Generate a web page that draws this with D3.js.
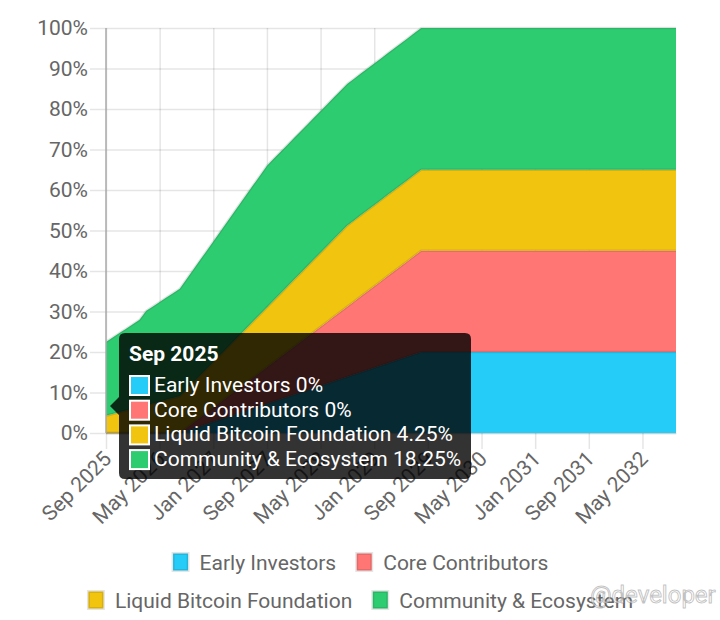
<!DOCTYPE html>
<html>
<head>
<meta charset="utf-8">
<script src="https://cdn.jsdelivr.net/npm/d3@7"></script>
<style>
  html, body { margin: 0; padding: 0; background: #fff; }
  svg { display: block; font-family: Roboto, "Noto Sans", sans-serif; }
</style>
</head>
<body>
<svg id="chart" width="720" height="620"></svg>
<script>
// Token unlock schedule, cumulative % of total supply, one point per month from Sep 2025

const seriesNames = ['Early Investors', 'Core Contributors', 'Liquid Bitcoin Foundation', 'Community & Ecosystem'];
const seriesColors = ['#25CCF7', '#FF7675', '#F1C40F', '#2ECC71'];

const earlyInvestors = [
    0, 0, 0, 0, 0, 0, 0, 0, 0, 0, 0, 0,
    0.56, 1.11, 1.67, 2.22, 2.78, 3.33, 3.89, 4.44, 5, 5.56, 6.11, 6.67,
    7.22, 7.78, 8.33, 8.89, 9.44, 10, 10.56, 11.11, 11.67, 12.22, 12.78, 13.33,
    13.89, 14.44, 15, 15.56, 16.11, 16.67, 17.22, 17.78, 18.33, 18.89, 19.44, 20,
    20, 20, 20, 20, 20, 20, 20, 20, 20, 20, 20, 20,
    20, 20, 20, 20, 20, 20, 20, 20, 20, 20, 20, 20,
    20, 20, 20, 20, 20, 20, 20, 20, 20, 20, 20, 20,
    20, 20
];
const coreContributors = [
    0, 0, 0, 0, 0, 0, 0, 0, 0, 0, 0, 0,
    0.69, 1.39, 2.08, 2.78, 3.47, 4.17, 4.86, 5.56, 6.25, 6.94, 7.64, 8.33,
    9.03, 9.72, 10.42, 11.11, 11.81, 12.5, 13.19, 13.89, 14.58, 15.28, 15.97, 16.67,
    17.36, 18.06, 18.75, 19.44, 20.14, 20.83, 21.53, 22.22, 22.92, 23.61, 24.31, 25,
    25, 25, 25, 25, 25, 25, 25, 25, 25, 25, 25, 25,
    25, 25, 25, 25, 25, 25, 25, 25, 25, 25, 25, 25,
    25, 25, 25, 25, 25, 25, 25, 25, 25, 25, 25, 25,
    25, 25
];
const liquidFoundation = [
    4.25, 4.69, 5.13, 5.56, 6, 6.44, 6.88, 7.31, 7.75, 8.19, 8.63, 9.06,
    9.5, 9.94, 10.38, 10.81, 11.25, 11.69, 12.13, 12.56, 13, 13.44, 13.88, 14.31,
    14.75, 15.19, 15.63, 16.06, 16.5, 16.94, 17.38, 17.81, 18.25, 18.69, 19.13, 19.56,
    20, 20, 20, 20, 20, 20, 20, 20, 20, 20, 20, 20,
    20, 20, 20, 20, 20, 20, 20, 20, 20, 20, 20, 20,
    20, 20, 20, 20, 20, 20, 20, 20, 20, 20, 20, 20,
    20, 20, 20, 20, 20, 20, 20, 20, 20, 20, 20, 20,
    20, 20
];
const communityEcosystem = [
    18.25, 18.9, 19.55, 20.2, 20.85, 21.5, 23.3, 23.95, 24.6, 25.25, 25.9, 26.55,
    27.2, 27.85, 28.5, 29.15, 29.8, 30.45, 31.1, 31.75, 32.4, 33.05, 33.7, 34.35,
    35, 35, 35, 35, 35, 35, 35, 35, 35, 35, 35, 35,
    35, 35, 35, 35, 35, 35, 35, 35, 35, 35, 35, 35,
    35, 35, 35, 35, 35, 35, 35, 35, 35, 35, 35, 35,
    35, 35, 35, 35, 35, 35, 35, 35, 35, 35, 35, 35,
    35, 35, 35, 35, 35, 35, 35, 35, 35, 35, 35, 35,
    35, 35
];

const xTickLabels = ['Sep 2025', 'May 2026', 'Jan 2027', 'Sep 2027', 'May 2028', 'Jan 2029',
    'Sep 2029', 'May 2030', 'Jan 2031', 'Sep 2031', 'May 2032'];
const yTicks = [0, 10, 20, 30, 40, 50, 60, 70, 80, 90, 100];

// month categories Sep 2025 .. Oct 2032
const fmtMonth = d3.timeFormat('%b %Y');
const months = d3.timeMonth.range(new Date(2025, 8, 1), new Date(2032, 10, 1)).map(fmtMonth);

const values = [earlyInvestors, coreContributors, liquidFoundation, communityEcosystem];
const rows = months.map((m, i) => {
    const r = { month: m };
    seriesNames.forEach((n, k) => { r[n] = values[k][i]; });
    return r;
});

const svg = d3.select('#chart');
const plotLeft = 106, plotRight = 676, plotTop = 28, plotBottom = 433;
const tickLen = 16;
const fontSize = 21;
const axisColor = '#666';
const gridColor = 'rgba(0,0,0,0.1)';

const x = d3.scalePoint().domain(months).range([plotLeft, plotRight]);
const y = d3.scaleLinear().domain([0, 100]).range([plotBottom, plotTop]);

// y axis + horizontal grid
const yAxis = svg.append('g')
    .attr('transform', `translate(${plotLeft},0)`)
    .call(d3.axisLeft(y).tickValues(yTicks).tickFormat(d => d + '%').tickSizeInner(tickLen).tickSizeOuter(0).tickPadding(2));
yAxis.select('.domain').remove();
yAxis.selectAll('.tick line').attr('x1', plotRight - plotLeft).attr('stroke', gridColor).attr('stroke-width', 1.5);
yAxis.selectAll('.tick text')
    .attr('fill', axisColor)
    .attr('font-size', fontSize)
    .attr('font-family', 'Roboto, sans-serif');

// x axis + vertical grid
const xAxis = svg.append('g')
    .attr('transform', `translate(0,${plotBottom})`)
    .call(d3.axisBottom(x).tickValues(xTickLabels).tickSizeInner(tickLen).tickSizeOuter(0));
xAxis.select('.domain').attr('stroke', gridColor).attr('stroke-width', 1.5);
xAxis.selectAll('.tick line').attr('y1', plotTop - plotBottom).attr('stroke', gridColor).attr('stroke-width', 1.5);
xAxis.selectAll('.tick text')
    .attr('fill', axisColor)
    .attr('font-size', fontSize)
    .attr('font-family', 'Roboto, sans-serif')
    .attr('text-anchor', 'end')
    .attr('dy', '0.35em')
    .attr('transform', 'translate(1,22) rotate(-45)')
    .attr('y', 0);

// stacked areas
const stack = d3.stack().keys(seriesNames);
const layers = stack(rows);

const area = d3.area()
    .x(d => x(d.data.month))
    .y0(d => y(d[0]))
    .y1(d => y(d[1]));
const topLine = d3.line()
    .x(d => x(d.data.month))
    .y(d => y(d[1]));

const plot = svg.append('g');
plot.selectAll('path.area')
    .data(layers)
    .enter().append('path')
    .attr('class', 'area')
    .attr('d', area)
    .attr('fill', (d, k) => seriesColors[k]);
plot.selectAll('path.edge')
    .data(layers)
    .enter().append('path')
    .attr('class', 'edge')
    .attr('d', topLine)
    .attr('fill', 'none')
    .attr('stroke', 'rgba(0,0,0,0.1)')
    .attr('stroke-width', 2.5)
    .attr('stroke-linejoin', 'round');

// y axis line
svg.append('line')
    .attr('x1', plotLeft).attr('x2', plotLeft)
    .attr('y1', plotTop).attr('y2', plotBottom)
    .attr('stroke', '#aaa').attr('stroke-width', 1.5);

// legend, two centred rows
const legendRows = [[0, 1], [2, 3]];
const legendY = [562, 600];
const legend = svg.append('g');
legendRows.forEach((row, r) => {
    const g = legend.append('g');
    let cx = 0;
    row.forEach(k => {
        g.append('rect')
            .attr('x', cx + 1.5).attr('y', legendY[r] - 8.5)
            .attr('width', 15).attr('height', 17)
            .attr('fill', seriesColors[k])
            .attr('stroke', 'rgba(0,0,0,0.1)').attr('stroke-width', 3);
        const t = g.append('text')
            .attr('x', cx + 28).attr('y', legendY[r] + 7.5)
            .attr('font-size', fontSize)
            .attr('fill', axisColor)
            .text(seriesNames[k]);
        cx += 28 + t.node().getComputedTextLength() + 19;
    });
    const w = cx - 19;
    g.attr('transform', `translate(${360 - w / 2},0)`);
});

// tooltip for the first month
const i0 = 0;
const caretY = d3.mean(layers, l => y(l[i0][1]));
const tip = svg.append('g');
const tipX = 119, tipY = 333, tipW = 352, tipH = 146;
tip.append('path')
    .attr('d', `M${tipX + 6},${tipY} H${tipX + tipW - 6} Q${tipX + tipW},${tipY} ${tipX + tipW},${tipY + 6}
        V${tipY + tipH - 6} Q${tipX + tipW},${tipY + tipH} ${tipX + tipW - 6},${tipY + tipH}
        H${tipX + 6} Q${tipX},${tipY + tipH} ${tipX},${tipY + tipH - 6}
        V${caretY + 9} L${tipX - 9},${caretY} L${tipX},${caretY - 9}
        V${tipY + 6} Q${tipX},${tipY} ${tipX + 6},${tipY} Z`)
    .attr('fill', 'rgba(0,0,0,0.8)');
tip.append('text')
    .attr('x', tipX + 10).attr('y', tipY + 28)
    .attr('font-size', fontSize).attr('font-weight', 'bold')
    .attr('fill', '#fff')
    .text(months[i0]);
seriesNames.forEach((n, k) => {
    const ly = tipY + 59 + k * 24.7;
    tip.append('rect')
        .attr('x', tipX + 11).attr('y', ly - 16)
        .attr('width', 19).attr('height', 19)
        .attr('fill', seriesColors[k])
        .attr('stroke', '#fff').attr('stroke-width', 2);
    tip.append('text')
        .attr('x', tipX + 35).attr('y', ly)
        .attr('font-size', fontSize)
        .attr('fill', '#fff')
        .text(`${n} ${values[k][i0]}%`);
});

// watermark in the corner of the source image
svg.append('text')
    .attr('x', 590).attr('y', 603)
    .attr('font-size', 24)
    .attr('fill', 'rgba(255,255,255,0.6)')
    .attr('stroke', 'rgba(120,120,120,0.45)')
    .attr('stroke-width', 1)
    .text('@developer');
</script>
</body>
</html>
